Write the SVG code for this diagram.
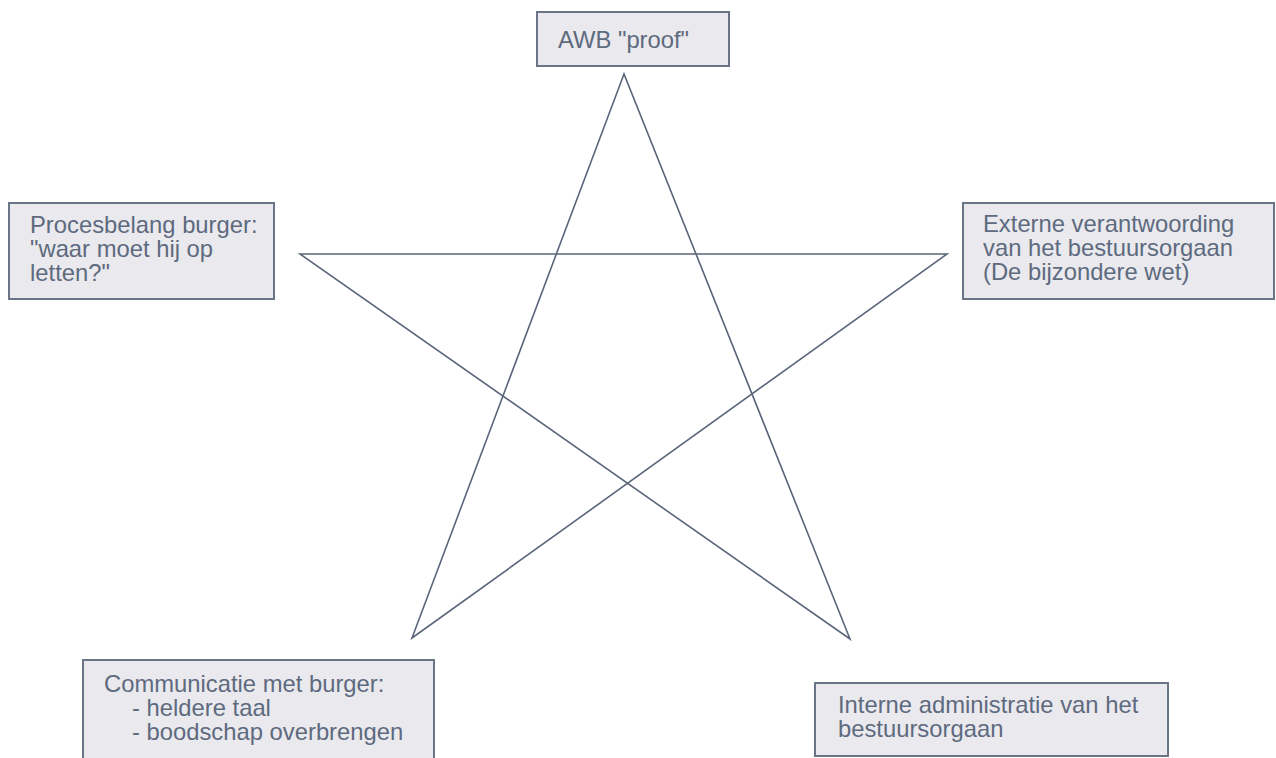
<svg xmlns="http://www.w3.org/2000/svg" width="1276" height="758" viewBox="0 0 1276 758">
<style>
.box{fill:#e9e9ee;stroke:#6b7588;stroke-width:2}
.t{font-family:"Liberation Sans",Arial,sans-serif;font-size:23.8px;fill:#5e6a7e}
.edge{fill:none;stroke:#5b667a;stroke-width:1.6;stroke-linejoin:miter}
</style>
<rect width="1276" height="758" fill="#ffffff"/>
<g id="connectors">
<path class="edge" d="M624,74 L412,638 L947,254 L300,254 L850,639 Z"/>
</g>
<g id="awb">
<rect class="box" x="537" y="12" width="192" height="54"/>
<text class="t" x="558" y="48">AWB "proof"</text>
</g>
<g id="procesbelang">
<rect class="box" x="9" y="203" width="265" height="96"/>
<text class="t"><tspan x="30" y="233">Procesbelang burger:</tspan><tspan x="30" y="257">"waar moet hij op</tspan><tspan x="30" y="281">letten?"</tspan></text>
</g>
<g id="externe">
<rect class="box" x="963" y="203" width="311" height="96"/>
<text class="t"><tspan x="983" y="232">Externe verantwoording</tspan><tspan x="983" y="256">van het bestuursorgaan</tspan><tspan x="983" y="280">(De bijzondere wet)</tspan></text>
</g>
<g id="communicatie">
<rect class="box" x="83" y="660" width="351" height="110"/>
<text class="t"><tspan x="104" y="692">Communicatie met burger:</tspan><tspan x="132" y="716">- heldere taal</tspan><tspan x="132" y="740">- boodschap overbrengen</tspan></text>
</g>
<g id="interne">
<rect class="box" x="815" y="683" width="353" height="73"/>
<text class="t"><tspan x="838" y="713">Interne administratie van het</tspan><tspan x="838" y="737">bestuursorgaan</tspan></text>
</g>
</svg>
